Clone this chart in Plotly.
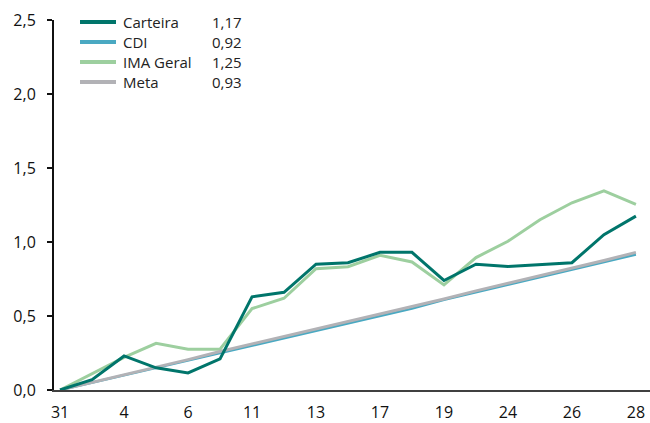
import plotly.graph_objects as go

days = ["31", "3", "4", "5", "6", "10", "11", "12", "13", "14",
        "17", "18", "19", "20", "24", "25", "26", "27", "28"]
tick_days = ["31", "4", "6", "11", "13", "17", "19", "24", "26", "28"]

carteira = [0.00, 0.07, 0.23, 0.15, 0.115, 0.21, 0.63, 0.66, 0.85, 0.86,
            0.93, 0.93, 0.74, 0.85, 0.835, 0.85, 0.86, 1.05, 1.175]
cdi = [0.00, 0.05, 0.10, 0.15, 0.20, 0.25, 0.30, 0.35, 0.40, 0.45,
       0.50, 0.55, 0.61, 0.66, 0.71, 0.76, 0.81, 0.86, 0.915]
ima_geral = [0.00, 0.11, 0.22, 0.315, 0.275, 0.275, 0.55, 0.62, 0.82, 0.833,
             0.91, 0.865, 0.71, 0.895, 1.005, 1.15, 1.265, 1.345, 1.255]
meta = [0.00, 0.05, 0.10, 0.155, 0.205, 0.26, 0.31, 0.36, 0.41, 0.46,
        0.51, 0.56, 0.615, 0.67, 0.72, 0.77, 0.825, 0.875, 0.93]

legend_names = ["Carteira", "CDI", "IMA Geral", "Meta"]
legend_values = ["1,17", "0,92", "1,25", "0,93"]

colors = {"Carteira": "#00756b", "CDI": "#4aa9c2", "IMA Geral": "#9dcf9f", "Meta": "#b2b2b6"}
widths = {"Carteira": 3, "CDI": 2.5, "IMA Geral": 3, "Meta": 3}
# drawing order: Carteira on top, Meta over CDI
draw_order = [("IMA Geral", ima_geral), ("CDI", cdi), ("Meta", meta), ("Carteira", carteira)]

L, T, W, H = 54, 20, 596, 370  # plot area in pixels


def px_x(x):
    return (x - L) / W


def px_y(y):
    return 1 - (y - T) / H


fig = go.Figure()
for name, values in draw_order:
    fig.add_trace(go.Scatter(
        x=days, y=values, name=name, mode="lines",
        line={"color": colors[name], "width": widths[name]},
        showlegend=False,
    ))

# legend drawn by hand so rows keep the tight 20px spacing of the original
for i, (name, val) in enumerate(zip(legend_names, legend_values)):
    row = 22 + 20 * i
    fig.add_shape(
        type="line", xref="paper", yref="paper",
        x0=px_x(80), x1=px_x(116), y0=px_y(row), y1=px_y(row),
        line={"color": colors[name], "width": 4},
    )
    fig.add_annotation(
        xref="paper", yref="paper", x=px_x(121), y=px_y(row),
        text=name, showarrow=False, xanchor="left", yanchor="middle",
        font={"size": 15, "color": "#222222"},
    )
    fig.add_annotation(
        xref="paper", yref="paper", x=px_x(210), y=px_y(row),
        text=val, showarrow=False, xanchor="left", yanchor="middle",
        font={"size": 15, "color": "#222222"},
    )

fig.update_layout(
    width=650, height=423,
    margin={"l": L, "r": 0, "t": T, "b": 33},
    paper_bgcolor="white", plot_bgcolor="white",
    font={"family": "Open Sans", "size": 16, "color": "#111111"},
    separators=",.",
    showlegend=False,
    xaxis={
        "type": "category",
        "range": [-0.19, 18.44],
        "tickvals": tick_days, "ticktext": tick_days,
        "showgrid": False, "zeroline": False,
        "showline": True, "linecolor": "#404040", "linewidth": 2,
        "ticks": "outside", "ticklen": 7, "tickcolor": "rgba(0,0,0,0)",
        "automargin": False,
    },
    yaxis={
        "range": [0, 2.5], "dtick": 0.5, "tickformat": ".1f",
        "showgrid": False, "zeroline": False,
        "showline": True, "linecolor": "#111111", "linewidth": 2,
        "ticks": "outside", "ticklen": 5, "tickwidth": 2, "tickcolor": "#111111",
        "ticklabelstandoff": 8, "automargin": False,
    },
)

fig.write_html("out.html", config={"displayModeBar": False},
               post_script="document.body.style.margin='0';")
